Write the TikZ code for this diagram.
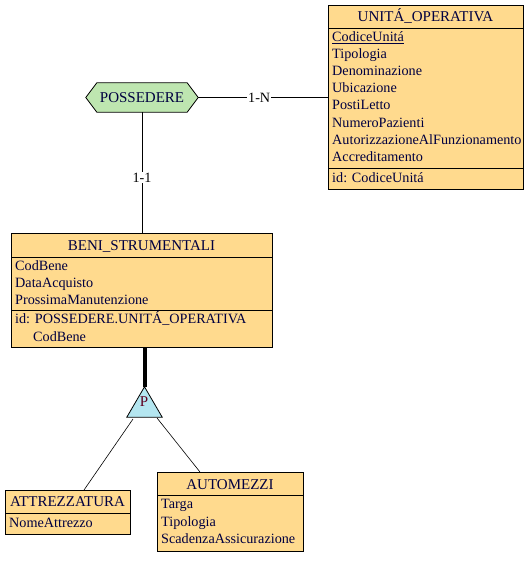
\documentclass[tikz,border=0pt]{standalone}
\usepackage{fontspec}
\setmainfont{Liberation Serif}
\usetikzlibrary{calc}
\definecolor{boxfill}{HTML}{FFDA8E}
\definecolor{relfill}{HTML}{BEE6B0}
\definecolor{isafill}{HTML}{B4E6F0}
\definecolor{txtcol}{HTML}{000040}
\definecolor{pcol}{HTML}{600020}
\begin{document}
\begin{tikzpicture}[x=1pt,y=-1pt,
  every node/.style={font=\fontsize{14.2}{17}\selectfont, text=txtcol},
  ent/.style={draw=black, fill=boxfill, line width=0.8pt, anchor=north west, inner sep=0pt},
  att/.style={inner sep=0pt, anchor=base west},
  ttl/.style={inner sep=0pt, anchor=base, font=\fontsize{15}{17}\selectfont},
  lnk/.style={draw=black, line width=0.7pt},
  card/.style={fill=white, inner sep=1pt, text=black}]
\useasboundingbox (0,0) rectangle (531,561);
% UNITA_OPERATIVA
\node[ent, minimum width=195pt, minimum height=184pt] (uo) at (328,5) {};
\draw[line width=0.8pt] (328,28) -- (523,28) (328,168) -- (523,168);
\node[ttl] (uot) at (425.5,21.5) {UNITÁ\_OPERATIVA};
\node[att] (uo1) at (332,42) {\underline{CodiceUnitá}};
\node[att] (uo2) at (332,59) {Tipologia};
\node[att] (uo3) at (332,76) {Denominazione};
\node[att] (uo4) at (332,93) {Ubicazione};
\node[att] (uo5) at (332,110) {PostiLetto};
\node[att] (uo6) at (332,127.5) {NumeroPazienti};
\node[att] (uo7) at (332,144.5) {AutorizzazioneAlFunzionamento};
\node[att] (uo8) at (332,161.5) {Accreditamento};
\node[att] (uoid) at (332,182.5) {id: CodiceUnitá};
% BENI_STRUMENTALI
\node[ent, minimum width=261pt, minimum height=114pt] (bs) at (11,233) {};
\draw[line width=0.8pt] (11,257) -- (272,257) (11,310) -- (272,310);
\node[ttl] (bst) at (141.5,250) {BENI\_STRUMENTALI};
\node[att] (bs1) at (15,270) {CodBene};
\node[att] (bs2) at (15,287) {DataAcquisto};
\node[att] (bs3) at (15,304) {ProssimaManutenzione};
\node[att] (bsid) at (15,323) {id: POSSEDERE.UNITÁ\_OPERATIVA};
\node[att] (bsid2) at (33,341) {CodBene};
% ATTREZZATURA
\node[ent, minimum width=125pt, minimum height=44pt] (at) at (5,490) {};
\draw[line width=0.8pt] (5,513) -- (130,513);
\node[ttl] (att) at (67.5,506.5) {ATTREZZATURA};
\node[att] (at1) at (9,527) {NomeAttrezzo};
% AUTOMEZZI
\node[ent, minimum width=146pt, minimum height=79pt] (au) at (157,472) {};
\draw[line width=0.8pt] (157,495) -- (303,495);
\node[ttl] (aut) at (230,489) {AUTOMEZZI};
\node[att] (au1) at (161,508.5) {Targa};
\node[att] (au2) at (161,526.5) {Tipologia};
\node[att] (au3) at (161,543.5) {ScadenzaAssicurazione};
% POSSEDERE
\node[minimum width=112pt, minimum height=29pt, inner sep=0pt] (poss) at (142,97.5) {};
\filldraw[fill=relfill, draw=black, line width=0.8pt]
  (poss.west) -- ($(poss.north west)+(11,0)$) -- ($(poss.north east)+(-11,0)$)
  -- (poss.east) -- ($(poss.south east)+(-11,0)$) -- ($(poss.south west)+(11,0)$) -- cycle;
\node[inner sep=0pt, font=\fontsize{15}{17}\selectfont] at (poss.center) {POSSEDERE};
% connectors
\draw[lnk] (poss.east) -- (poss.east -| uo.west) node[card, pos=0.47] (cn) {1-N};
\draw[lnk] (poss.south) -- (poss.south |- bs.north) node[card, pos=0.54] (c1) {1-1};
% ISA
\node[minimum width=35pt, minimum height=30pt, inner sep=0pt] (isa) at (144.5,402) {};
\draw[line width=4pt] (isa.north |- bs.south) -- (isa.north);
\filldraw[fill=isafill, draw=black, line width=0.8pt]
  (isa.north) -- (isa.south east) -- (isa.south west) -- cycle;
\node[inner sep=0pt, text=pcol, font=\fontsize{15}{15}\selectfont] at (144,402) {P};
\coordinate (isaL) at (133,419);
\coordinate (isaR) at (157,418);
\coordinate (atTop) at (84,490);
\coordinate (auTop) at (200,472);
\draw[line width=0.6pt] (isaL) -- (atTop);
\draw[line width=0.6pt] (isaR) -- (auTop);
\end{tikzpicture}
\end{document}
